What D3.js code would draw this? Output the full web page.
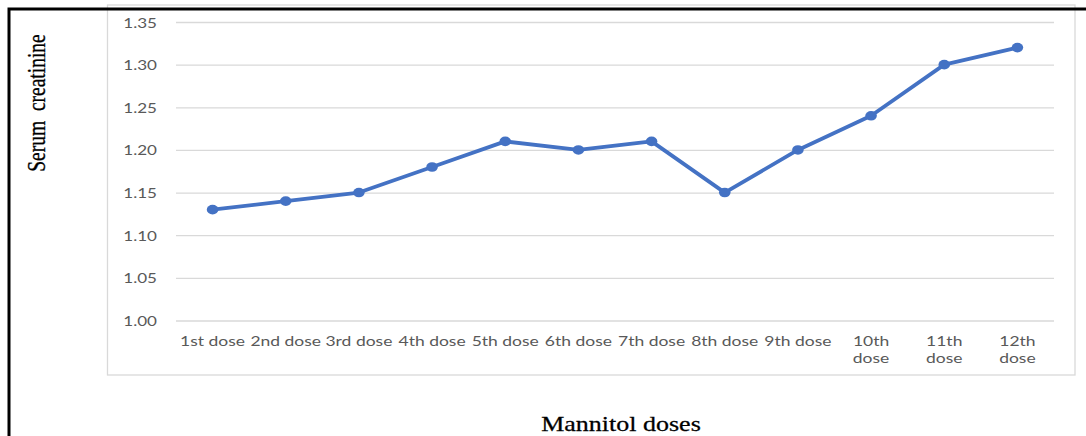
<!DOCTYPE html>
<html><head><meta charset="utf-8">
<script src="https://cdn.jsdelivr.net/npm/d3@7"></script>
<style>html,body{margin:0;padding:0;background:#fff;}svg{display:block;}</style>
</head><body>
<svg id="c" width="1086" height="436"></svg>
<script>
const categories = ["1st dose","2nd dose","3rd dose","4th dose","5th dose","6th dose","7th dose","8th dose","9th dose","10th dose","11th dose","12th dose"];
const values = [1.13,1.14,1.15,1.18,1.21,1.20,1.21,1.15,1.20,1.24,1.30,1.32];
const yTicks = [1.00,1.05,1.10,1.15,1.20,1.25,1.30,1.35];
const yTitle = "Serum  creatinine";
const xTitle = "Mannitol doses";

const svg = d3.select("#c");
const SX = 1.22; // horizontal stretch of the reference picture
const SXL = 1.25;
const plot = {left:176, right:1054, top:22, bottom:320.5};

// chart area frame
svg.append("rect").attr("x",107.5).attr("y",5).attr("width",967.5).attr("height",370)
  .attr("fill","#fff").attr("stroke","#d9d9d9").attr("stroke-width",1.3);

const x = d3.scaleBand().domain(categories).range([plot.left,plot.right]).padding(0);
const y = d3.scaleLinear().domain([1.00,1.35]).range([plot.bottom,plot.top]);

// y axis: gridlines and labels
const yAxis = d3.axisLeft(y).tickValues(yTicks).tickFormat(d3.format(".2f"))
  .tickSize(-(plot.right-plot.left)).tickPadding(0);
const ga = svg.append("g").attr("transform",`translate(${plot.left},0)`).call(yAxis);
ga.select(".domain").remove();
ga.selectAll(".tick line").attr("stroke","#d9d9d9").attr("stroke-width",1.3);
ga.selectAll(".tick text")
  .attr("x",null).attr("dy",null)
  .attr("transform",`translate(-19,5) scale(${SX},1)`)
  .attr("fill","#595959").attr("font-family","Lato, 'Open Sans', sans-serif").attr("font-size",14)
  .attr("text-anchor","end");

// x axis labels
const xAxis = d3.axisBottom(x).tickSize(0).tickPadding(0);
const gx = svg.append("g").attr("transform",`translate(0,${plot.bottom})`).call(xAxis);
gx.select(".domain").remove();
gx.selectAll(".tick text").each(function(d){
  const t = d3.select(this);
  t.attr("y",null).attr("dy",null)
   .attr("fill","#595959").attr("font-family","Lato, 'Open Sans', sans-serif").attr("font-size",14)
   .attr("text-anchor","middle")
   .attr("transform",`translate(0,25) scale(${SXL},1)`);
  const w = this.getComputedTextLength()*SXL;
  if (w > x.bandwidth()) {
    const parts = d.split(" ");
    t.text(null);
    parts.forEach((p,i)=>t.append("tspan").attr("x",0).attr("dy", i===0?0:17.5).text(p));
  }
});

// line
const line = d3.line().x((d,i)=>x(categories[i])+x.bandwidth()/2).y(d=>y(d));
svg.append("path").datum(values).attr("d",line)
  .attr("fill","none").attr("stroke","#4472c4").attr("stroke-width",3.8).attr("stroke-linejoin","round");
svg.selectAll("ellipse.pt").data(values).enter().append("ellipse").attr("class","pt")
  .attr("cx",(d,i)=>x(categories[i])+x.bandwidth()/2).attr("cy",d=>y(d))
  .attr("rx",5.8).attr("ry",4.8).attr("fill","#4472c4");

// titles
svg.append("text").text(xTitle)
  .attr("transform",`translate(621,431) scale(1.3,1)`)
  .attr("text-anchor","middle").attr("font-family","'Liberation Serif','Times New Roman',serif")
  .attr("font-size",20).attr("fill","#000").attr("stroke","#000").attr("stroke-width",0.25);
svg.append("text").text(yTitle)
  .attr("transform",`translate(45,103) scale(1.3,1) rotate(-90)`)
  .attr("text-anchor","middle").attr("font-family","'Liberation Serif','Times New Roman',serif")
  .attr("font-size",19.5).attr("fill","#000").attr("stroke","#000").attr("stroke-width",0.25)
  .style("white-space","pre").attr("xml:space","preserve");

// outer black border
svg.append("path").attr("d","M9,436 V9 H1086").attr("fill","none").attr("stroke","#000").attr("stroke-width",3);
</script>
</body></html>
